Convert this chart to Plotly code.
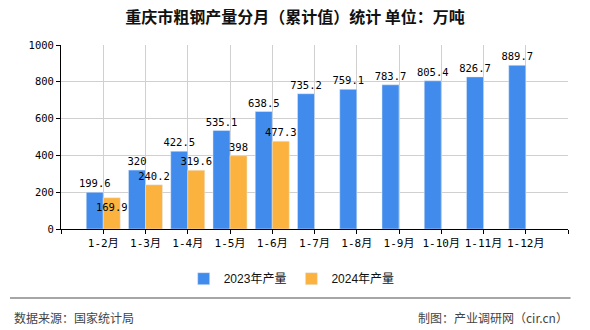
import plotly.graph_objects as go

categories = ["1-2月", "1-3月", "1-4月", "1-5月", "1-6月", "1-7月", "1-8月", "1-9月", "1-10月", "1-11月", "1-12月"]
values_2023 = [199.6, 320, 422.5, 535.1, 638.5, 735.2, 759.1, 783.7, 805.4, 826.7, 889.7]
values_2024 = [169.9, 240.2, 319.6, 398, 477.3]
series_names = ["2023年产量", "2024年产量"]
y_ticks = [0, 200, 400, 600, 800, 1000]

BLUE = "#418bec"
ORANGE = "#fbb23f"
MONO = "DejaVu Sans Mono, Noto Sans CJK SC, monospace"

xs = list(range(len(categories)))

def fmt(v):
    return f"{v:g}"

fig = go.Figure()
fig.add_trace(go.Bar(
    x=xs, y=values_2023, name=series_names[0], marker_color=BLUE,
    text=[fmt(v) for v in values_2023], textposition="outside", textangle=0,
    constraintext="none", cliponaxis=False,
    textfont=dict(family=MONO, size=10.5, color="#000"),
    outsidetextfont=dict(family=MONO, size=10.5, color="#000"),
))
fig.add_trace(go.Bar(
    x=xs[:len(values_2024)], y=values_2024, name=series_names[1], marker_color=ORANGE,
    text=[fmt(v) for v in values_2024],
    textposition=["inside"] + ["outside"] * (len(values_2024) - 1),
    insidetextanchor="end", textangle=0,
    constraintext="none", cliponaxis=False,
    textfont=dict(family=MONO, size=10.5, color="#000"),
    insidetextfont=dict(family=MONO, size=10.5, color="#000"),
    outsidetextfont=dict(family=MONO, size=10.5, color="#000"),
))

fig.update_layout(
    width=590, height=330,
    margin=dict(l=61, r=22, t=45, b=101),
    paper_bgcolor="white", plot_bgcolor="white",
    barmode="group", bargap=0.195, bargroupgap=0,
    title=dict(text="重庆市粗钢产量分月（累计值）统计\u00a0单位：万吨", x=0.5, xanchor="center",
               y=0.948, yanchor="middle",
               font=dict(family="Noto Sans CJK SC", size=16, color="#111", weight="bold")),
    legend=dict(orientation="h", x=0.455, xanchor="center", y=-0.27, yanchor="middle",
                font=dict(family="Liberation Sans, Noto Sans CJK SC", size=12, color="#111"),
                itemwidth=30, traceorder="normal"),
    font=dict(family=MONO, size=10.5, color="#000"),
)
fig.update_xaxes(
    range=[-1, len(categories)],
    tickmode="array", tickvals=[-1] + xs + [len(categories)],
    ticktext=[""] + categories + [""],
    showgrid=True, gridcolor="#d0d0d0", gridwidth=1,
    showline=True, linecolor="#000", linewidth=1,
    ticks="outside", ticklen=4, tickcolor="#000",
    zeroline=False, fixedrange=True,
    tickfont=dict(family=MONO, size=11, color="#000"),
)
fig.update_yaxes(
    range=[0, 1000], tickvals=y_ticks,
    showgrid=True, gridcolor="#d0d0d0", gridwidth=1,
    showline=True, linecolor="#000", linewidth=1,
    ticks="outside", ticklen=4, tickcolor="#000",
    zeroline=False, fixedrange=True,
    tickfont=dict(family=MONO, size=10.5, color="#000"),
)

# footer separator and texts
fig.add_shape(type="line", xref="paper", yref="paper",
              x0=-51/507, x1=1.005, y0=-(298-229)/184, y1=-(298-229)/184,
              line=dict(color="#888", width=1.5))
fig.add_annotation(text="数据来源：国家统计局", xref="paper", yref="paper",
                   x=-49/507, y=-(317-229)/184, xanchor="left", yanchor="middle",
                   showarrow=False, font=dict(family="Noto Sans CJK SC", size=12, color="#444"))
fig.add_annotation(text="制图：产业调研网（cir.cn）", xref="paper", yref="paper",
                   x=1.004, y=-(317-229)/184, xanchor="right", yanchor="middle",
                   showarrow=False, font=dict(family="Noto Sans CJK SC", size=12, color="#444"))

fig.write_html("out.html")
